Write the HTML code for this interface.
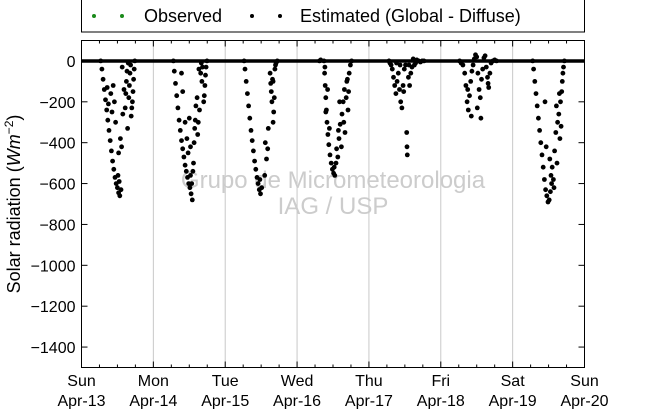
<!DOCTYPE html>
<html><head><meta charset="utf-8"><style>
body{margin:0;background:#fff;width:650px;height:409px;overflow:hidden;font-family:"Liberation Sans","DejaVu Sans",sans-serif}
</style></head><body>
<svg id="chart" width="650" height="409" xmlns="http://www.w3.org/2000/svg" font-family="Liberation Sans, DejaVu Sans, sans-serif">
<g>
<rect x="81.5" y="-5" width="503" height="37" fill="#fff" stroke="#000" stroke-width="1"/>
<circle cx="94" cy="16" r="2" fill="#1a8a1a"/><circle cx="122" cy="16" r="2" fill="#1a8a1a"/>
<text x="144" y="22" font-size="18">Observed</text>
<circle cx="252" cy="16" r="2" fill="#000"/><circle cx="280" cy="16" r="2" fill="#000"/>
<text x="300" y="22" font-size="18">Estimated (Global - Diffuse)</text>
</g>
<g id="grid"></g>
<text x="333" y="188" font-size="24" fill="#cccccc" text-anchor="middle">Grupo de Micrometeorologia</text>
<text x="333" y="214" font-size="24" fill="#cccccc" text-anchor="middle">IAG / USP</text>
<g id="marks"></g>
<rect x="81.5" y="40.5" width="503" height="327" fill="none" stroke="#000" stroke-width="1"/>
<g id="axes"></g>
<text transform="translate(20,204) rotate(-90)" font-size="18" text-anchor="middle">Solar radiation (<tspan font-style="italic">Wm</tspan><tspan font-size="12" dy="-7">−2</tspan><tspan dy="7">)</tspan></text>
</svg>
<script>
const dayNames=["Sun","Mon","Tue","Wed","Thu","Fri","Sat","Sun"];
const dayDates=["Apr-13","Apr-14","Apr-15","Apr-16","Apr-17","Apr-18","Apr-19","Apr-20"];
const yTicks=[0,-200,-400,-600,-800,-1000,-1200,-1400];
// estimated points: [day index, hour, W/m2]
const day0=[[6.4,0],[6.8,-40],[7.2,-90],[7.6,-140],[8,-190],[8.4,-240],[8.8,-290],[9.2,-340],[9.6,-390],[10,-440],[10.4,-490],[10.8,-530],[11.2,-570],[11.6,-600],[12,-620],[12.4,-645],[12.8,-660],[13.2,-630],[12.6,-590],[12.2,-560],
[8.6,-130],[9,-210],[9.8,-160],[10.2,-250],[10.6,-120],[11,-200],[11.4,-300],[12.4,-450],[13,-380],[13.4,-420],[13.8,-260],[14.2,-140],[14.6,-230],[15,-100],[15.4,-330],[15.8,-180],[16.2,-60],[16.6,-270],[16.8,-230],[17,-200],[17.2,-150],[17.4,-90],[17.6,-40],[17.8,0],[16.4,-20],[15.6,-10],[15.2,-50],[14.8,-160],[16,-120],[13.6,-30]];
const day1=[[6.7,0],[7,-50],[7.4,-110],[7.8,-170],[8.2,-230],[8.6,-290],[9,-340],[9.4,-390],[9.8,-430],[10.2,-470],[10.6,-510],[11,-540],[11.4,-570],[11.8,-600],[12.2,-620],[12.6,-650],[13,-680],[12.4,-560],[12.8,-600],[13.2,-540],
[9.4,-60],[9.8,-150],[10.6,-300],[11.2,-380],[11.6,-450],[12,-280],[12.4,-420],[13.4,-500],[13.6,-400],[13.8,-330],[14.2,-220],[14.6,-180],[14.8,-360],[15,-300],[15.4,-240],[15.8,-60],[16.2,-100],[16.4,-30],[16.8,-200],[17,-170],[17.2,-120],[17.4,-70],[17.6,-30],[17.9,0],[15.2,-40],[16,-10],[14,-290]];
const day2=[[6.3,0],[6.6,-40],[7,-100],[7.4,-160],[7.8,-220],[8.2,-280],[8.6,-340],[9,-390],[9.4,-440],[9.8,-490],[10.2,-530],[10.6,-570],[11,-600],[11.4,-630],[11.8,-650],[12.2,-620],[11.6,-580],
[13.4,-400],[13.8,-480],[14.2,-430],[14.4,-330],[15,-60],[15.4,-150],[15.6,-200],[16,-100],[16.2,-250],[16.4,-180],[16.6,-40],[16.8,-20],[17,-10],[17.4,0],[15.8,-90],[16,-300],[15.2,-110],[13.2,-560]];
const day3=[[7.5,0],[7.9,5],[9,0],[9.2,-60],[9.4,-120],[9.6,-180],[9.8,-240],[10,-300],[10.3,-360],[10.6,-410],[11,-460],[11.4,-500],[11.8,-530],[12.2,-550],[12.6,-560],[12.4,-520],[13,-500],
[9.3,-30],[9.6,-250],[10.2,-140],[10.8,-330],[13.2,-430],[13.6,-470],[14,-380],[14.4,-310],[14.8,-420],[15,-260],[15.4,-200],[15.8,-140],[16,-350],[16.4,-180],[16.8,-90],[17,-240],[17.4,-60],[17.8,-20],[18.2,0],[14.2,-200],[15.6,-300],[16.6,-100],[17.2,-150],[13.8,-340]];
const day4=[[6.7,0],[7,-10],[7.4,-20],[7.8,-40],[8.2,-80],[8.6,-120],[9,-160],[9.4,-100],[9.8,-60],[10.2,-140],[10.6,-200],[11,-230],[11.4,-120],[11.8,-40],[12.2,-20],[12.6,-350],[12.7,-420],[12.8,-460],[13.2,-80],[13.6,-120],[14,-60],[14.4,-30],[14.8,10],[15.2,-20],[15.6,-10],[16,5],[16.6,0],[17.2,-5],[17.8,0],[18.4,0],[10.4,-20],[11.6,-150],[9.2,-10],[13.4,-20]];
const day5=[[6.3,0],[6.8,-10],[7.4,-20],[8,-60],[8.4,-120],[8.8,-200],[9.2,-240],[9.6,-170],[10,-100],[10.4,-50],[10.8,-20],[11.2,10],[11.6,30],[12,20],[12.4,-60],[12.8,-140],[13.2,-180],[13.6,-90],[14,-40],[14.4,15],[14.8,25],[15.2,-30],[15.6,-80],[16,-130],[16.4,-60],[16.8,-10],[17.4,0],[18,5],[18.6,0],[9,-140],[10.2,-270],[12.2,-230],[13.4,-280],[15.8,-110]];
const day6=[[6.7,0],[7,-40],[7.4,-100],[7.8,-160],[8.2,-220],[8.6,-280],[9,-340],[9.4,-400],[9.8,-460],[10.2,-520],[10.6,-580],[11,-630],[11.4,-660],[11.8,-690],[12.2,-680],[12.6,-640],[13,-600],[12.8,-560],[12.4,-480],
[10.8,-200],[11.2,-420],[13.2,-520],[13.6,-580],[14,-440],[14.4,-350],[14.8,-500],[15,-300],[15.4,-260],[15.8,-380],[16,-200],[16.2,-320],[16.4,-150],[16.6,-100],[16.8,-60],[17,-30],[17.3,0],[14.6,-220],[15.6,-160],[13.8,-620]];
const days=[day0,day1,day2,day3,day4,day5,day6];

const X0=81.5,X1=584.5,Y0=40.5,Y1=367.5,YMAX=100,YMIN=-1500;
function xs(dayIndex,h){return X0+(X1-X0)*(dayIndex+h/24)/7;}
function ys(v){return Y0+(YMAX-v)/(YMAX-YMIN)*(Y1-Y0);}
const NS="http://www.w3.org/2000/svg";
function mk(tag,attrs,parent){const e=document.createElementNS(NS,tag);for(const k in attrs)e.setAttribute(k,attrs[k]);parent.appendChild(e);return e;}
const grid=document.getElementById('grid'),marks=document.getElementById('marks'),axes=document.getElementById('axes');
for(let d=1;d<7;d++){
  const gl=mk('line',{x1:xs(d,0),x2:xs(d,0),y1:Y0,y2:Y1,stroke:'#c8c8c8','stroke-width':1},grid);
  
  
}
const zl=mk('line',{x1:X0,x2:X1,y1:ys(0),y2:ys(0),stroke:'#000','stroke-width':3.5},marks);


days.forEach((pts,d)=>{pts.forEach(p=>{
  const c=mk('circle',{cx:xs(d,p[0]).toFixed(1),cy:ys(p[1]).toFixed(1),r:2.4,fill:'#000'},marks);
  
  
});});
yTicks.forEach(v=>{
  const y=ys(v);
  mk('line',{x1:X0,x2:X0+6,y1:y,y2:y,stroke:'#000'},axes);
  mk('line',{x1:X1,x2:X1-6,y1:y,y2:y,stroke:'#000'},axes);
  const t=mk('text',{x:X0-6,y:y+6,'font-size':16,'text-anchor':'end'},axes);
  
  
  t.textContent=v<0?'−'+(-v):String(v);
});
for(let q=0;q<=28;q++){
  const x=xs(0,q*6),len=(q%4===0)?6:3;
  mk('line',{x1:x,x2:x,y1:Y0,y2:Y0+len,stroke:'#000'},axes);
  mk('line',{x1:x,x2:x,y1:Y1,y2:Y1-len,stroke:'#000'},axes);
}
dayNames.forEach((n,d)=>{
  const x=xs(d,0);
  const t=mk('text',{x:x,y:386,'font-size':16,'text-anchor':'middle'},axes);
  
  
  t.textContent=n;
  const t2=mk('text',{x:x,y:406,'font-size':16,'text-anchor':'middle'},axes);
  
  
  t2.textContent=dayDates[d];
});
</script>
</body></html>
